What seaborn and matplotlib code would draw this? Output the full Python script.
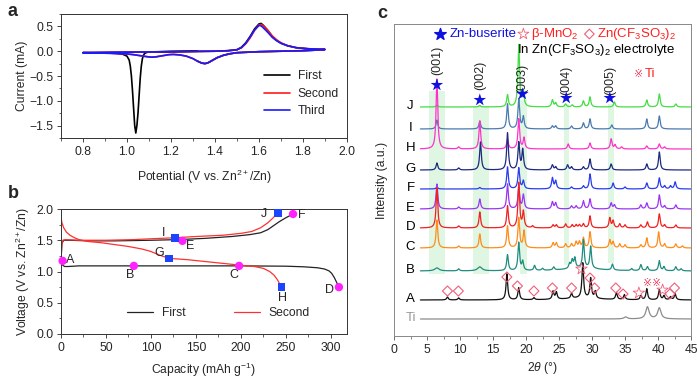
import numpy as np
import pandas as pd
import seaborn as sns
import matplotlib.pyplot as plt
from matplotlib.ticker import MultipleLocator

# ---------------- panel a: CV curves ----------------
cv1_v = [1.32, 1.2, 1.1, 1.09, 1.08, 1.075, 1.07, 1.065, 1.06, 1.055, 1.05, 1.045, 1.04, 1.035, 1.03, 1.025,
         1.02, 1.015, 1.01, 1.0, 0.98, 0.95, 0.9, 0.8,
         0.9, 1.0, 1.1, 1.2, 1.3, 1.4, 1.46, 1.5, 1.52, 1.54, 1.56, 1.58, 1.6, 1.61, 1.62, 1.64, 1.66,
         1.68, 1.7, 1.73, 1.77, 1.82, 1.87, 1.9,
         1.85, 1.8, 1.7, 1.6, 1.55, 1.5, 1.47, 1.44, 1.41, 1.39, 1.37, 1.355, 1.34, 1.32]
cv1_i = [0.0, -0.005, -0.015, -0.025, -0.045, -0.08, -0.15, -0.3, -0.55, -0.9, -1.25, -1.5, -1.65, -1.5, -1.15, -0.8,
         -0.5, -0.3, -0.18, -0.1, -0.06, -0.045, -0.035, -0.03,
         -0.025, -0.02, -0.015, -0.01, -0.005, 0.0, 0.01, 0.03, 0.08, 0.17, 0.3, 0.45, 0.55, 0.56, 0.52, 0.42, 0.3,
         0.22, 0.16, 0.11, 0.07, 0.05, 0.04, 0.035,
         0.02, 0.01, 0.0, -0.01, -0.02, -0.03, -0.05, -0.08, -0.13, -0.18, -0.23, -0.25, -0.24, -0.2]

cv_an_v = [0.8, 0.9, 1.0, 1.1, 1.2, 1.3, 1.4, 1.46, 1.5, 1.52, 1.54, 1.56, 1.58, 1.6, 1.61, 1.62, 1.64, 1.66,
           1.68, 1.7, 1.73, 1.77, 1.82, 1.87, 1.9]
cv2_an_i = [-0.03, -0.025, -0.02, -0.015, -0.01, -0.005, 0.0, 0.01, 0.03, 0.07, 0.15, 0.27, 0.42, 0.53, 0.54,
            0.51, 0.42, 0.31, 0.23, 0.17, 0.11, 0.07, 0.05, 0.04, 0.035]
cv3_an_i = [-0.03, -0.025, -0.02, -0.015, -0.01, -0.005, 0.0, 0.01, 0.03, 0.07, 0.16, 0.29, 0.43, 0.52, 0.51,
            0.47, 0.38, 0.28, 0.21, 0.16, 0.11, 0.07, 0.05, 0.04, 0.035]
cv_ca_v = [1.9, 1.85, 1.8, 1.7, 1.6, 1.55, 1.5, 1.47, 1.44, 1.41, 1.39, 1.37, 1.355, 1.34, 1.32, 1.3, 1.27,
           1.24, 1.21, 1.19, 1.17, 1.15, 1.13, 1.11, 1.09, 1.06, 1.03, 1.0, 0.95, 0.9, 0.85, 0.8]
cv_ca_i = [0.035, 0.02, 0.01, 0.0, -0.01, -0.02, -0.03, -0.05, -0.08, -0.13, -0.18, -0.23, -0.25, -0.24, -0.2,
           -0.15, -0.1, -0.075, -0.065, -0.07, -0.085, -0.1, -0.115, -0.12, -0.11, -0.09, -0.07, -0.055, -0.045,
           -0.04, -0.035, -0.03]

# ---------------- panel b: GCD curves ----------------
first_dis_c = [0, 1, 2, 4, 8, 20, 50, 100, 150, 200, 250, 270, 285, 293, 298, 301, 304, 306, 308, 309]
first_dis_v = [1.17, 1.14, 1.1, 1.08, 1.08, 1.09, 1.09, 1.09, 1.09, 1.09, 1.085, 1.075, 1.06, 1.04, 1.01,
               0.97, 0.9, 0.84, 0.78, 0.75]
first_ch_c = [0, 0.5, 1, 3, 10, 30, 60, 100, 130, 160, 190, 210, 222, 230, 237, 243, 250, 258]
first_ch_v = [1.1, 1.3, 1.45, 1.5, 1.5, 1.49, 1.49, 1.5, 1.51, 1.53, 1.56, 1.59, 1.62, 1.67, 1.74, 1.8,
              1.86, 1.92]
second_dis_c = [0, 1, 3, 6, 10, 15, 20, 30, 45, 60, 75, 90, 100, 110, 120, 140, 160, 180, 200, 215, 225,
                232, 237, 241, 245]
second_dis_v = [1.87, 1.78, 1.7, 1.63, 1.58, 1.54, 1.51, 1.48, 1.46, 1.43, 1.4, 1.36, 1.32, 1.26, 1.21, 1.19,
                1.16, 1.13, 1.1, 1.08, 1.05, 1.0, 0.94, 0.86, 0.75]
second_ch_c = [0, 1, 2, 5, 20, 50, 80, 110, 127, 150, 180, 200, 212, 222, 230, 236, 241]
second_ch_v = [1.2, 1.45, 1.5, 1.51, 1.5, 1.5, 1.51, 1.53, 1.54, 1.56, 1.58, 1.61, 1.64, 1.7, 1.78, 1.86, 1.94]

circ_lab = ['A', 'B', 'C', 'D', 'E', 'F']
circ_c = [1.8, 81, 198, 309, 135, 258]
circ_v = [1.17, 1.09, 1.09, 0.75, 1.49, 1.92]
sq_lab = ['G', 'H', 'I', 'J']
sq_c = [120, 245, 127, 241]
sq_v = [1.21, 0.75, 1.54, 1.94]

# ---------------- panel c: XRD patterns (peak position, height[, width]) ----------------
names = ['J', 'I', 'H', 'G', 'F', 'E', 'D', 'C', 'B', 'A', 'Ti']
offsets = [229, 207, 187, 166, 147, 127, 108, 88, 65, 36, 17]
colors = ['#44dd44', '#4a7ab0', '#ff33cc', '#1c2a80', '#2a3cf0', '#9a35f5', '#f22020', '#ff8c1a',
          '#1f8c80', '#111111', '#8c8c8c']
peaks = {
    'J': [(6.5, 2), (13.0, 1.5), (17.2, 12), (18.9, 62), (19.6, 14), (24.0, 7), (24.5, 4), (26.0, 3),
          (27.0, 2), (28.7, 6), (29.7, 10), (33.4, 5), (38.3, 7), (40.2, 13), (42.7, 3)],
    'I': [(6.5, 9), (13.0, 8), (17.2, 25), (18.9, 30), (19.6, 12), (24.0, 3), (24.5, 3), (26.9, 3),
          (28.7, 6), (29.7, 10), (33.0, 4), (38.3, 10), (40.2, 13)],
    'H': [(6.5, 70), (9.8, 2), (13.0, 28), (17.2, 10), (18.9, 30), (19.7, 11), (26.4, 5), (29.7, 6),
          (32.9, 10), (33.5, 4), (34.5, 2), (38.3, 3), (40.2, 5), (41.0, 2)],
    'G': [(6.5, 7), (9.8, 2), (13.1, 28), (17.2, 37), (18.9, 27), (19.5, 20), (24.0, 5), (24.5, 3),
          (26.3, 5), (26.9, 3), (28.7, 3), (29.7, 11), (32.9, 6), (38.3, 6), (40.2, 18)],
    'F': [(6.5, 2), (13.0, 1.5), (17.2, 22), (18.9, 21), (19.6, 8), (24.0, 11), (24.5, 8), (26.9, 2),
          (28.7, 3), (29.7, 15), (33.2, 6), (35.0, 2), (38.3, 6), (40.2, 11), (41.0, 3), (41.9, 3),
          (42.6, 7)],
    'E': [(6.5, 25), (9.8, 2), (13.0, 10), (17.2, 25), (18.9, 22), (19.6, 14), (24.0, 7), (24.5, 6),
          (26.9, 3), (27.6, 3), (28.7, 8), (29.7, 10), (32.9, 6), (33.4, 4), (37.4, 4), (38.3, 6),
          (40.2, 14), (41.0, 3), (42.7, 4)],
    'D': [(6.5, 40), (9.8, 2), (13.0, 16), (17.2, 22), (18.9, 45), (19.6, 16), (21.0, 2), (24.1, 3),
          (24.6, 3), (26.0, 4), (27.0, 3), (27.6, 3), (28.1, 3), (28.7, 4), (29.7, 12), (32.7, 10),
          (33.2, 7), (34.2, 4), (35.0, 3), (37.4, 3), (38.4, 6), (40.2, 14), (41.0, 3), (42.7, 3)],
    'C': [(6.5, 28), (9.8, 2), (13.0, 14), (17.2, 22), (18.9, 30), (19.7, 17), (24.1, 5), (24.6, 5),
          (26.0, 4), (26.9, 4), (27.6, 6), (28.1, 6), (28.7, 10), (29.7, 16), (32.7, 8), (33.2, 6),
          (34.2, 4), (35.0, 3), (37.4, 3), (38.3, 10), (40.1, 16), (41.0, 4), (42.7, 4), (43.7, 2)],
    'B': [(6.5, 3, 0.4), (9.8, 2), (13.0, 4, 0.4), (17.2, 16), (18.9, 28), (19.5, 9), (21.3, 5),
          (22.5, 2), (24.2, 3), (26.6, 5), (27.0, 8), (27.4, 10), (28.7, 28), (29.8, 22), (33.1, 6),
          (36.0, 2), (37.4, 6), (38.4, 4), (40.2, 10), (40.9, 4), (42.7, 4), (43.5, 2), (28.5, 3, 3.0)],
    'A': [(8.1, 3), (9.8, 2), (17.1, 26), (18.9, 12), (21.2, 2), (24.1, 8), (24.6, 7), (26.9, 5),
          (28.6, 35), (29.8, 20), (30.5, 7), (33.7, 7), (34.9, 5), (37.4, 4), (38.3, 11), (40.2, 10),
          (40.9, 4), (41.9, 3), (42.6, 6), (28.5, 2, 3.0)],
    'Ti': [(35.1, 2, 0.3), (38.4, 12, 0.3), (40.2, 11, 0.3)],
}

band_lo = [5.3, 11.9, 19.1, 25.8, 32.4]
band_hi = [7.8, 14.4, 20.1, 26.5, 33.3]
band_bot = [62, 62, 62, 71, 73]
band_top = [245, 230, 236, 232, 232]

hkl = ['(001)', '(002)', '(003)', '(004)', '(005)']
hkl_x = [6.5, 13.0, 19.45, 26.1, 32.7]
hkl_y = [276, 261, 258, 256, 256]
star_y = [251, 236, 242, 238, 238]

dia_x = [8.1, 9.75, 17.1, 18.7, 21.2, 24.0, 26.9, 29.7, 30.4, 33.6, 34.7, 41.8, 42.5]
dia_y = [45, 45, 59, 50, 45, 48, 48, 58, 48, 48, 42, 42, 48]
ostar_x = [28.4, 37.1, 40.7]
ostar_y = [67, 43, 46]
ti_x = [38.4, 39.8]
ti_y = [53, 53]

# ---------------- style ----------------
sns.set_style('ticks')
plt.rcParams['font.family'] = ['Liberation Sans', 'DejaVu Sans', 'Noto Sans CJK SC']
plt.rcParams['mathtext.fontset'] = 'custom'
plt.rcParams['mathtext.rm'] = 'Liberation Sans'
plt.rcParams['mathtext.it'] = 'Liberation Sans:italic'
plt.rcParams['mathtext.bf'] = 'Liberation Sans:bold'
FS = 8.7
plt.rc('font', size=FS)
plt.rc('xtick', labelsize=FS)
plt.rc('ytick', labelsize=FS)
for k in ['xtick', 'ytick']:
    plt.rc(k + '.major', size=3, width=0.6, pad=2.5)
    plt.rc(k + '.minor', size=1.8, width=0.5)
plt.rc('axes', linewidth=0.7, edgecolor='#333333', labelsize=FS)

W, H = 697, 379
fig = plt.figure(figsize=(W / 100, H / 100), dpi=100)
ax_a = fig.add_axes([61 / W, 1 - 138 / H, 286 / W, 124 / H])
ax_b = fig.add_axes([61 / W, 1 - 334 / H, 286 / W, 125 / H])
ax_c = fig.add_axes([394 / W, 1 - 336 / H, 297 / W, 312 / H])

# ---- panel a ----
cv = pd.concat([
    pd.DataFrame({'V': cv1_v, 'I': cv1_i, 'scan': 'First'}),
    pd.DataFrame({'V': cv_an_v + cv_ca_v, 'I': cv2_an_i + cv_ca_i, 'scan': 'Second'}),
    pd.DataFrame({'V': cv_an_v + cv_ca_v, 'I': cv3_an_i + cv_ca_i, 'scan': 'Third'}),
])
sns.lineplot(data=cv, x='V', y='I', hue='scan', palette=['#000000', '#ff1a1a', '#1a1aff'],
             sort=False, estimator=None, lw=1.2, ax=ax_a)
ax_a.set_xlim(0.7, 2.0)
ax_a.set_ylim(-1.75, 0.75)
ax_a.xaxis.set_minor_locator(MultipleLocator(0.1))
ax_a.yaxis.set_minor_locator(MultipleLocator(0.25))
ax_a.set_xticks([0.8, 1.0, 1.2, 1.4, 1.6, 1.8, 2.0])
ax_a.set_yticks([-1.5, -1.0, -0.5, 0.0, 0.5])
ax_a.set_yticklabels(['\u22121.5', '\u22121.0', '\u22120.5', '0.0', '0.5'])
ax_a.set_xlabel('Potential (V vs. Zn$^{2+}$/Zn)', labelpad=7)
ax_a.set_ylabel('Current (mA)', labelpad=1)
ax_a.legend(loc='lower right', bbox_to_anchor=(1.01, 0.08), frameon=False, handlelength=2.2,
            handletextpad=0.6, labelspacing=0.45, fontsize=FS)

# ---- panel b ----
gcd = pd.concat([
    pd.DataFrame({'C': first_dis_c, 'V': first_dis_v, 'cyc': 'First', 'seg': 'fd'}),
    pd.DataFrame({'C': first_ch_c, 'V': first_ch_v, 'cyc': 'First', 'seg': 'fc'}),
    pd.DataFrame({'C': second_dis_c, 'V': second_dis_v, 'cyc': 'Second', 'seg': 'sd'}),
    pd.DataFrame({'C': second_ch_c, 'V': second_ch_v, 'cyc': 'Second', 'seg': 'sc'}),
])
sns.lineplot(data=gcd, x='C', y='V', hue='cyc', units='seg', palette=['#222222', '#ff3030'],
             sort=False, estimator=None, lw=0.9, ax=ax_b)
sns.scatterplot(x=circ_c, y=circ_v, color='#ff22ff', s=36, marker='o', edgecolor='none',
                zorder=5, clip_on=False, ax=ax_b)
sns.scatterplot(x=sq_c, y=sq_v, color='#1a44ff', s=30, marker='s', edgecolor='none',
                zorder=5, clip_on=False, ax=ax_b)
lab_off = {'A': (8, 0.02), 'B': (-4, -0.15), 'C': (-6, -0.15), 'D': (-10, -0.05), 'E': (9, -0.08),
           'F': (10, -0.02), 'G': (-11, 0.08), 'H': (1, -0.17), 'I': (-13, 0.07), 'J': (-15, -0.02)}
for lab, c, v in zip(circ_lab + sq_lab, circ_c + sq_c, circ_v + sq_v):
    dx, dy = lab_off[lab]
    ax_b.text(c + dx, v + dy, lab, ha='center', va='center', fontsize=9)
ax_b.set_xlim(0, 318)
ax_b.set_ylim(0, 2.0)
ax_b.xaxis.set_major_locator(MultipleLocator(50))
ax_b.xaxis.set_minor_locator(MultipleLocator(25))
ax_b.yaxis.set_major_locator(MultipleLocator(0.5))
ax_b.yaxis.set_minor_locator(MultipleLocator(0.25))
ax_b.set_xlabel('Capacity (mAh g$^{-1}$)', labelpad=5)
ax_b.set_ylabel('Voltage (V vs. Zn$^{2+}$/Zn)', labelpad=3)
ax_b.legend(loc='lower center', bbox_to_anchor=(0.55, 0.03), ncol=2, frameon=False,
            handlelength=2.2, handletextpad=0.7, columnspacing=4.0, fontsize=FS)

# ---- panel c ----
tt = np.linspace(4.0, 45.0, 3000)
for lo, hi, b, t in zip(band_lo, band_hi, band_bot, band_top):
    ax_c.axvspan(lo, hi, ymin=b / 312, ymax=t / 312, color='#dff6e3', lw=0, zorder=0)
for name, off, col in zip(names, offsets, colors):
    prof = np.zeros_like(tt)
    for pk in peaks[name]:
        w = pk[2] if len(pk) > 2 else 0.15
        prof += pk[1] / (1 + ((tt - pk[0]) / w) ** 2)
    sns.lineplot(x=tt, y=prof + off, color=col, lw=0.9, ax=ax_c)
    ax_c.text(2.5, off + 1, name, ha='center', va='center', fontsize=9.5,
              color='#999999' if name == 'Ti' else 'black')
sns.scatterplot(x=hkl_x, y=star_y, marker='*', s=90, color='#1010e0', edgecolor='none', zorder=6, ax=ax_c)
for lab, x, y in zip(hkl, hkl_x, hkl_y):
    ax_c.text(x, y, lab, rotation=90, ha='center', va='center', fontsize=9)
sns.scatterplot(x=dia_x, y=dia_y, marker='D', s=26, facecolor='none', edgecolor='#f0607a',
                linewidth=0.8, zorder=6, ax=ax_c)
sns.scatterplot(x=ostar_x, y=ostar_y, marker='*', s=75, facecolor='none', edgecolor='#f0607a',
                linewidth=0.6, zorder=6, ax=ax_c)
for x, y in zip(ti_x, ti_y):
    ax_c.text(x, y, '\u203b', ha='center', va='center', fontsize=8, color='#f03050')

# legend-like annotations at top
ax_c.scatter([6.9], [302], marker='*', s=75, color='#1010e0', zorder=6)
ax_c.text(8.4, 302, 'Zn-buserite', color='#1010e0', va='center', fontsize=9.5)
ax_c.scatter([19.6], [302], marker='*', s=70, facecolor='none', edgecolor='#f0607a', lw=0.6, zorder=6)
ax_c.text(20.8, 302, '\u03b2-MnO$_2$', color='#ff2020', va='center', fontsize=9.5)
ax_c.scatter([29.6], [302], marker='D', s=24, facecolor='none', edgecolor='#f0607a', lw=0.8, zorder=6)
ax_c.text(30.7, 302, 'Zn(CF$_3$SO$_3$)$_2$', color='#ff2020', va='center', fontsize=9.5)
ax_c.text(18.6, 286, 'In Zn(CF$_3$SO$_3$)$_2$ electrolyte', color='black', va='center', fontsize=9.5)
ax_c.text(37.1, 262, '\u203b', color='#f03050', va='center', ha='center', fontsize=8)
ax_c.text(38.0, 262, 'Ti', color='#ff2020', va='center', fontsize=9.5)

ax_c.set_xlim(0, 45)
ax_c.set_ylim(0, 312)
ax_c.set_yticks([])
ax_c.xaxis.set_major_locator(MultipleLocator(5))
ax_c.xaxis.set_minor_locator(MultipleLocator(2.5))
for sp in ax_c.spines.values():
    sp.set_color('#888888')
ax_c.tick_params(axis='x', which='both', color='#555555')
ax_c.set_xlabel(r'2$\it{\theta}$ (°)', labelpad=3)
ax_c.set_ylabel('Intensity (a.u.)', labelpad=4)

fig.text(8 / W, 1 - 12 / H, 'a', fontsize=13, fontweight='bold', va='center')
fig.text(8 / W, 1 - 193 / H, 'b', fontsize=13, fontweight='bold', va='center')
fig.text(377 / W, 1 - 13 / H, 'c', fontsize=13, fontweight='bold', va='center')

fig.savefig('out.png', dpi=100)
